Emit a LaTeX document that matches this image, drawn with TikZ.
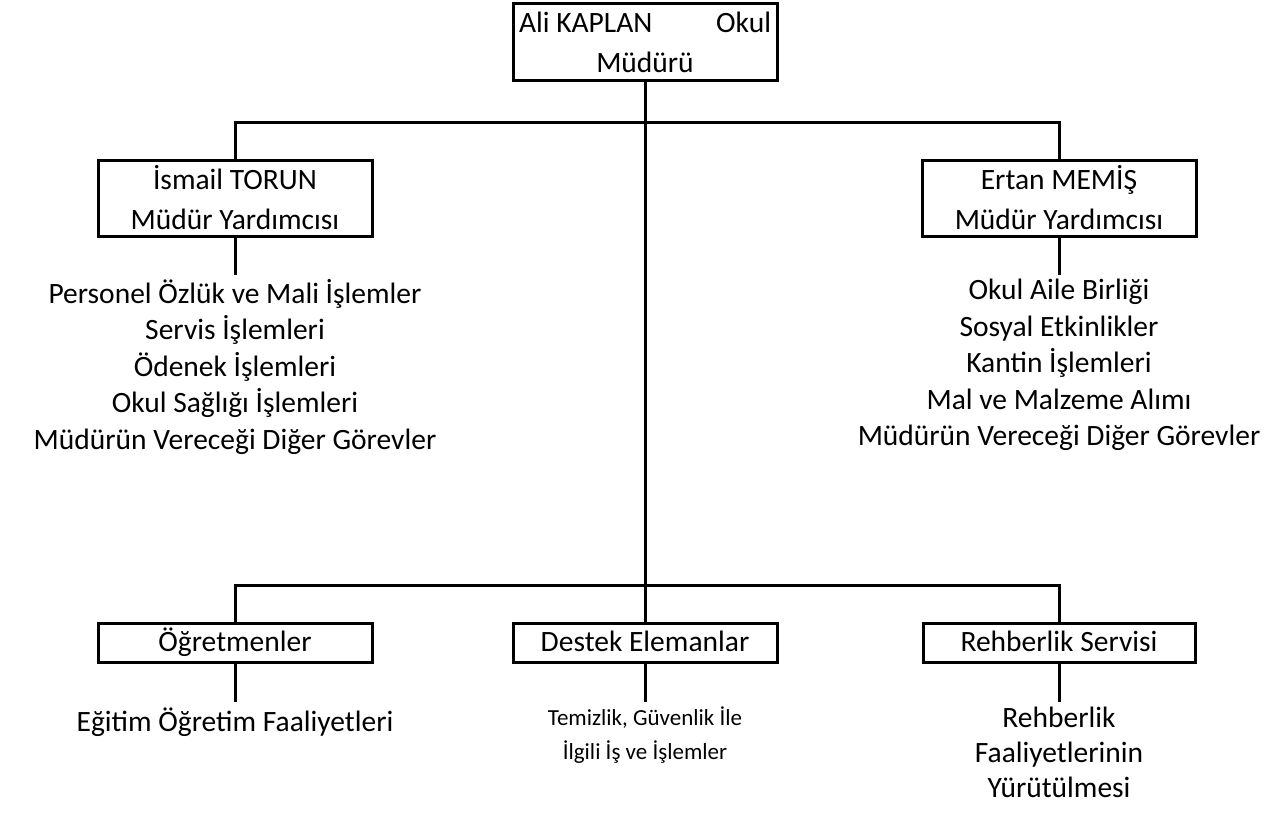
\documentclass[tikz,border=0pt]{standalone}
\usepackage{fontspec}
\setmainfont{Carlito}
\usepackage{tikz}

\begin{document}
\begin{tikzpicture}[x=1pt,y=-1pt,line width=3pt]
        \useasboundingbox (0,0) rectangle (1280,816);

        \begin{scope}[every node/.style={draw, align=center, inner sep=0pt, font=\fontsize{29.5}{40}\selectfont}]
          \node[minimum width=264pt, minimum height=77pt] (1) at (645,42) {\makebox[252pt][s]{Ali KAPLAN\hfill Okul}\\Müdürü};
          \node[minimum width=274pt, minimum height=76pt] (2) at (235,198) {İsmail TORUN\\Müdür Yardımcısı};
          \node[minimum width=274pt, minimum height=76pt] (3) at (1059,198) {Ertan MEMİŞ\\Müdür Yardımcısı};
        \end{scope}

        \begin{scope}[every node/.style={draw, inner sep=0pt, minimum height=39pt, text height=22pt, text depth=6pt, font=\fontsize{29.5}{40}\selectfont}]
          \node[minimum width=274pt] (4) at (235,643) {Öğretmenler};
          \node[minimum width=264pt] (5) at (645,643) {Destek Elemanlar};
          \node[minimum width=272pt] (6) at (1059,643) {Rehberlik Servisi};
        \end{scope}

        \begin{scope}[every node/.style={align=center, anchor=north, inner xsep=0pt, execute at begin node=\strut}]
          \node[inner ysep=2.8pt, font=\fontsize{29.5}{36.5}\selectfont] (7) at (235,275)
            {Personel Özlük ve Mali İşlemler\\Servis İşlemleri\\Ödenek İşlemleri\\Okul Sağlığı İşlemleri\\Müdürün Vereceği Diğer Görevler};
          \node[inner ysep=2.8pt, font=\fontsize{29.5}{36.5}\selectfont] (8) at (1059,275)
            {Okul Aile Birliği\\Sosyal Etkinlikler\\Kantin İşlemleri\\Mal ve Malzeme Alımı\\Müdürün Vereceği Diğer Görevler};
          \node[inner ysep=3.5pt, font=\fontsize{29.5}{35}\selectfont] (9) at (235,702) {Eğitim Öğretim Faaliyetleri};
          \node[inner ysep=3.2pt, font=\fontsize{23}{34}\selectfont] (10) at (645,702) {Temizlik, Güvenlik İle\\İlgili İş ve İşlemler};
          \node[inner ysep=3.5pt, font=\fontsize{29.5}{35}\selectfont] (11) at (1059,702) {Rehberlik\\Faaliyetlerinin\\Yürütülmesi};
        \end{scope}

        \coordinate (ust) at (645,122);
        \coordinate (alt) at (645,585);

        \draw (1.south) -- (5.north);
        \draw (2.north) |- (ust) -| (3.north);
        \draw (4.north) |- (alt) -| (6.north);
        \path (2.south) edge (7.north);
        \path (3.south) edge (8.north);
        \path (4.south) edge (9.north);
        \path (5.south) edge (10.north);
        \path (6.south) edge (11.north);

      \end{tikzpicture}
\end{document}
